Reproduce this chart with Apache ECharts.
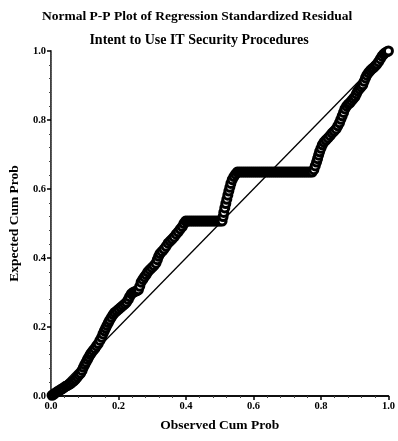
<!DOCTYPE html>
<html><head><meta charset="utf-8">
<script src="https://cdn.jsdelivr.net/npm/echarts@6/dist/echarts.min.js"></script>
<style>html,body{margin:0;padding:0;background:#fff}#c{width:398px;height:441px}</style>
</head><body><div id="c"></div>
<script>
const chartTitle = "Normal P-P Plot of Regression Standardized Residual";
const chartSubtitle = "Intent to Use IT Security Procedures";
const xAxisName = "Observed Cum Prob";
const yAxisName = "Expected Cum Prob";
const tickValues = [0.0, 0.2, 0.4, 0.6, 0.8, 1.0];
const refLineX = [0, 1];
const refLineY = [0, 1];
const observed = [
0.003,0.008,0.013,0.018,0.023,0.028,0.033,0.038,0.043,0.048,0.053,0.058,0.063,0.068,0.073,0.078,0.083,0.088,0.092,0.096,
0.100,0.104,0.108,0.112,0.116,0.120,0.125,0.130,0.135,0.140,0.145,0.150,0.154,0.158,0.162,0.166,0.170,0.174,0.179,0.184,
0.189,0.195,0.201,0.207,0.213,0.219,0.224,0.229,0.233,0.238,0.243,0.249,0.254,0.259,0.263,0.267,0.272,0.277,0.282,0.287,
0.293,0.299,0.305,0.311,0.315,0.319,0.323,0.329,0.335,0.341,0.347,0.353,0.359,0.365,0.371,0.377,0.383,0.389,0.394,0.399,
0.405,0.411,0.417,0.423,0.429,0.435,0.441,0.447,0.453,0.459,0.465,0.471,0.477,0.483,0.489,0.495,0.501,0.507,
0.510,0.512,0.515,0.518,0.521,0.524,0.527,0.530,0.533,0.537,0.542,0.547,0.552,
0.558,0.564,0.570,0.576,0.582,0.588,0.594,0.600,0.606,0.612,0.618,0.624,0.630,0.636,0.642,0.648,0.654,0.660,0.666,0.672,
0.678,0.684,0.690,0.696,0.702,0.708,0.714,0.720,0.726,0.732,0.738,0.744,0.750,0.756,0.762,0.768,0.774,
0.779,0.783,0.787,0.790,0.793,0.796,0.800,0.804,0.809,0.815,0.821,0.827,0.833,0.839,0.845,0.850,0.855,0.859,0.863,0.867,
0.871,0.876,0.881,0.886,0.891,0.896,0.901,0.905,0.909,0.914,0.919,0.924,0.928,0.932,0.936,0.941,0.946,0.951,0.956,0.961,
0.966,0.971,0.976,0.981,0.986,0.991,0.996,1.000
];
const expected = [
0.002,0.005,0.009,0.012,0.015,0.018,0.021,0.024,0.028,0.030,0.033,0.036,0.040,0.044,0.049,0.055,0.061,0.066,0.074,0.083,
0.091,0.098,0.106,0.113,0.120,0.126,0.132,0.138,0.145,0.152,0.161,0.170,0.180,0.189,0.197,0.205,0.213,0.220,0.228,0.236,
0.242,0.247,0.252,0.257,0.262,0.267,0.272,0.280,0.288,0.296,0.300,0.303,0.305,0.308,0.318,0.330,0.338,0.345,0.352,0.360,
0.366,0.372,0.378,0.385,0.395,0.405,0.413,0.419,0.426,0.434,0.443,0.449,0.455,0.461,0.469,0.476,0.484,0.491,0.500,0.507,
0.507,0.507,0.507,0.507,0.507,0.507,0.507,0.507,0.507,0.507,0.507,0.507,0.507,0.507,0.507,0.507,0.507,0.507,
0.520,0.532,0.545,0.558,0.570,0.582,0.594,0.605,0.616,0.627,0.636,0.643,0.649,
0.649,0.649,0.649,0.649,0.649,0.649,0.649,0.649,0.649,0.649,0.649,0.649,0.649,0.649,0.649,0.649,0.649,0.649,0.649,0.649,
0.649,0.649,0.649,0.649,0.649,0.649,0.649,0.649,0.649,0.649,0.649,0.649,0.649,0.649,0.649,0.649,0.649,
0.656,0.667,0.678,0.688,0.698,0.708,0.718,0.728,0.736,0.742,0.748,0.755,0.762,0.768,0.774,0.783,0.792,0.802,0.812,0.822,
0.832,0.840,0.846,0.850,0.856,0.862,0.868,0.876,0.884,0.890,0.896,0.902,0.912,0.922,0.930,0.937,0.943,0.948,0.952,0.957,
0.962,0.969,0.977,0.985,0.991,0.995,0.998,1.000
];

const font = '"Liberation Serif", "DejaVu Serif", serif';
const chart = echarts.init(document.getElementById('c'));
const pts = observed.map((x, i) => [x, expected[i]]);
const ref = refLineX.map((x, i) => [x, refLineY[i]]);
const labelFmt = v => v.toFixed(1);
chart.setOption({
  animation: false,
  backgroundColor: '#fff',
  title: [
    {text: chartTitle, left: 37, top: 5, textStyle: {fontFamily: font, fontWeight: 'bold', fontSize: 13.5, color: '#000'}},
    {text: chartSubtitle, left: 'center', top: 28, textStyle: {fontFamily: font, fontWeight: 'bold', fontSize: 14, color: '#000'}}
  ],
  grid: {left: 49, right: 9, top: 51, bottom: 45, containLabel: false},
  xAxis: [
    {type: 'value', min: 0, max: 1, interval: 0.2, position: 'bottom',
     name: xAxisName, nameLocation: 'middle', nameGap: 23,
     nameTextStyle: {fontFamily: font, fontWeight: 'bold', fontSize: 13.5, color: '#000'},
     axisLine: {lineStyle: {color: '#000', width: 1.5}},
     axisTick: {show: true, length: 4, lineStyle: {color: '#000', width: 1.5}},
     minorTick: {show: true, splitNumber: 5, length: 2, lineStyle: {color: '#444'}},
     axisLabel: {formatter: labelFmt, fontFamily: font, fontWeight: 'bold', fontSize: 10.5, color: '#000', margin: 5},
     splitLine: {show: false}},
    {type: 'value', min: 0, max: 1, interval: 0.2, position: 'top',
     axisLine: {lineStyle: {color: '#000', width: 1.5}},
     axisTick: {show: false}, axisLabel: {show: false}, splitLine: {show: false}}
  ],
  yAxis: [
    {type: 'value', min: 0, max: 1, interval: 0.2, position: 'left',
     name: yAxisName, nameLocation: 'middle', nameGap: 29,
     nameTextStyle: {fontFamily: font, fontWeight: 'bold', fontSize: 13.5, color: '#000'},
     axisLine: {lineStyle: {color: '#000', width: 1.5}},
     axisTick: {show: true, length: 4, lineStyle: {color: '#000', width: 1.5}},
     minorTick: {show: true, splitNumber: 5, length: 2, lineStyle: {color: '#444'}},
     axisLabel: {formatter: labelFmt, fontFamily: font, fontWeight: 'bold', fontSize: 10.5, color: '#000', margin: 5},
     splitLine: {show: false}},
    {type: 'value', min: 0, max: 1, interval: 0.2, position: 'right',
     axisLine: {lineStyle: {color: '#666', width: 1, type: 'dotted'}},
     axisTick: {show: false}, axisLabel: {show: false}, splitLine: {show: false}}
  ],
  series: [
    {type: 'line', data: ref, symbol: 'none', lineStyle: {color: '#000', width: 1.3}, z: 1},
    {type: 'scatter', data: pts, symbol: 'circle', symbolSize: 8,
     itemStyle: {color: '#fff', borderColor: '#000', borderWidth: 3, opacity: 1}, z: 2}
  ]
});
</script></body></html>
